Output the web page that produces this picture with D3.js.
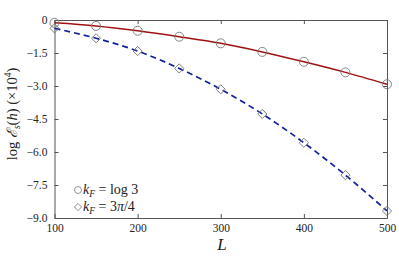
<!DOCTYPE html>
<html>
<head>
<meta charset="utf-8">
<script src="https://cdn.jsdelivr.net/npm/d3@7"></script>
<style>
body { margin: 0; background: #fff; }
svg text { font-family: "Liberation Serif", serif; fill: #222; }
</style>
</head>
<body>
<script>
//chart data
var sizes = [100, 150, 200, 250, 300, 350, 400, 450, 500];
var logThree = [-0.13, -0.27, -0.49, -0.76, -1.06, -1.45, -1.9, -2.38, -2.92];
var threePiQuarter = [-0.38, -0.83, -1.41, -2.2, -3.15, -4.27, -5.58, -7.05, -8.68];
var xTicks = [100, 200, 300, 400, 500];
var yTicks = [0, -1.5, -3, -4.5, -6, -7.5, -9];

(function(){

    var width = 399, height = 256;
    var margin = {left: 54.5, right: 12, top: 20, bottom: 38};
    var serif = "'Liberation Serif', serif";

    var svg = d3.select("body").append("svg")
        .attr("width", width)
        .attr("height", height);

    var x = d3.scaleLinear().domain([100, 500]).range([margin.left, width - margin.right]);
    var y = d3.scaleLinear().domain([0, -9]).range([margin.top, height - margin.bottom]);

    var fmt = function(d){ return d === 0 ? "0" : d3.format(".1f")(d).replace("-", "\u2212"); };

    //axes with inward ticks
    svg.append("g").attr("transform", "translate(0," + y(-9) + ")")
        .call(d3.axisBottom(x).tickValues(xTicks).tickSizeInner(-4).tickSizeOuter(0).tickPadding(6))
        .call(styleAxis);
    svg.append("g").attr("transform", "translate(" + x(100) + ",0)")
        .call(d3.axisLeft(y).tickValues(yTicks).tickFormat(fmt).tickSizeInner(-4).tickSizeOuter(0).tickPadding(7))
        .call(styleAxis);
    svg.append("g").attr("transform", "translate(0," + y(0) + ")")
        .call(d3.axisTop(x).tickValues(xTicks).tickFormat("").tickSizeInner(-4).tickSizeOuter(0))
        .call(styleAxis);
    svg.append("g").attr("transform", "translate(" + x(500) + ",0)")
        .call(d3.axisRight(y).tickValues(yTicks).tickFormat("").tickSizeInner(-4).tickSizeOuter(0))
        .call(styleAxis);

    function styleAxis(g){
        g.attr("font-family", serif);
        g.select(".domain").attr("stroke", "#555").attr("stroke-width", 1);
        g.selectAll(".tick line").attr("stroke", "#555");
        g.selectAll("text").attr("font-size", 11.5).attr("fill", "#222");
    }

    var line = d3.line()
        .x(function(d, i){ return x(sizes[i]); })
        .y(function(d){ return y(d); })
        .curve(d3.curveMonotoneX);

    svg.append("path").datum(logThree)
        .attr("d", line).attr("fill", "none")
        .attr("stroke", "#a01010").attr("stroke-width", 1.5);

    svg.append("path").datum(threePiQuarter)
        .attr("d", line).attr("fill", "none")
        .attr("stroke", "#1020a0").attr("stroke-width", 1.7)
        .attr("stroke-dasharray", "6,4");

    var marker = "#777";

    svg.selectAll(".circ").data(logThree).enter().append("circle")
        .attr("cx", function(d, i){ return x(sizes[i]); })
        .attr("cy", function(d){ return y(d); })
        .attr("r", 4.5).attr("fill", "none").attr("stroke", marker).attr("stroke-width", 0.9);

    var diamond = d3.symbol().type(d3.symbolSquare).size(42);
    svg.selectAll(".diam").data(threePiQuarter).enter().append("path")
        .attr("d", diamond)
        .attr("transform", function(d, i){ return "translate(" + x(sizes[i]) + "," + y(d) + ") rotate(45)"; })
        .attr("fill", "none").attr("stroke", marker).attr("stroke-width", 0.9);

    //legend
    var smallDiamond = d3.symbol().type(d3.symbolSquare).size(26);
    svg.append("circle").attr("cx", 78).attr("cy", 190).attr("r", 3.5)
        .attr("fill", "none").attr("stroke", marker).attr("stroke-width", 0.8);
    svg.append("path").attr("d", smallDiamond).attr("transform", "translate(78,207) rotate(45)")
        .attr("fill", "none").attr("stroke", marker).attr("stroke-width", 0.8);

    var l1 = svg.append("text").attr("x", 83).attr("y", 194).attr("font-size", 14);
    l1.append("tspan").attr("font-style", "italic").text("k");
    l1.append("tspan").attr("font-style", "italic").attr("font-size", 9.5).attr("dy", 2.5).text("F");
    l1.append("tspan").attr("dy", -2.5).text(" = log 3");

    var l2 = svg.append("text").attr("x", 83).attr("y", 211).attr("font-size", 14);
    l2.append("tspan").attr("font-style", "italic").text("k");
    l2.append("tspan").attr("font-style", "italic").attr("font-size", 9.5).attr("dy", 2.5).text("F");
    l2.append("tspan").attr("dy", -2.5).text(" = 3");
    l2.append("tspan").attr("font-style", "italic").text("\u03c0");
    l2.append("tspan").text("/4");

    //axis labels
    svg.append("text").attr("x", 222).attr("y", 250)
        .attr("text-anchor", "middle").attr("font-size", 17).attr("font-style", "italic").text("L");

    var yl = svg.append("text")
        .attr("transform", "translate(17,114) rotate(-90)")
        .attr("text-anchor", "middle").attr("font-size", 14.5);
    yl.append("tspan").text("log ");
    yl.append("tspan").attr("font-style", "italic").text("\u2130");
    yl.append("tspan").attr("font-style", "italic").attr("font-size", 9.5).attr("dy", 3).text("s");
    yl.append("tspan").attr("dy", -3).text("(");
    yl.append("tspan").attr("font-style", "italic").text("h");
    yl.append("tspan").text(") (\u00d710");
    yl.append("tspan").attr("font-size", 9.5).attr("dy", -6).text("4");
    yl.append("tspan").attr("dy", 6).text(")");

})();
</script>
</body>
</html>
